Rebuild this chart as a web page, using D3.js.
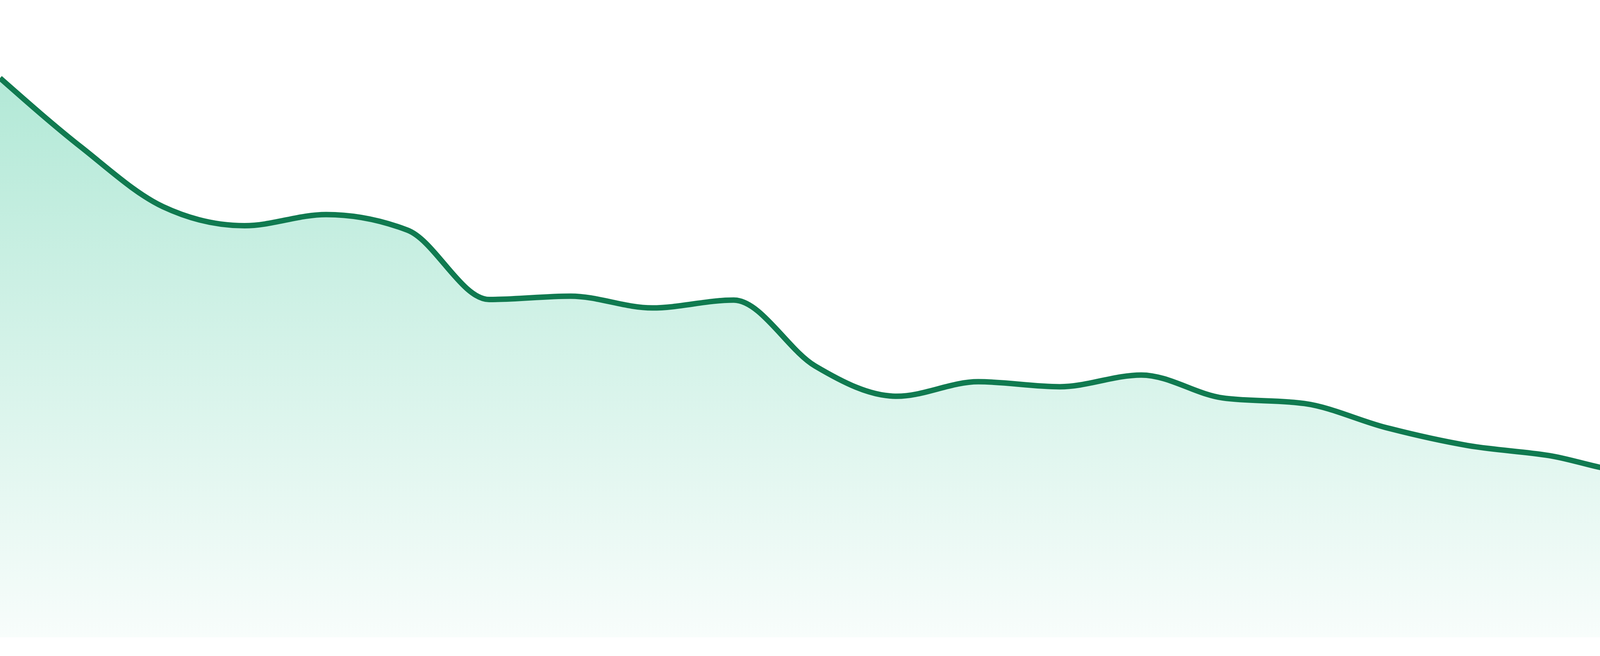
<!DOCTYPE html>
<html>
<head>
<meta charset="utf-8">
<script src="https://cdn.jsdelivr.net/npm/d3@7"></script>
<style>
    html, body { margin: 0; padding: 0; background: #fff; }
    svg { display: block; }
</style>
</head>
<body>
<div id="canvas"></div>
<script>
// one reading per day
const days = d3.range(1, 25);
const values = [100, 87.6, 77.0, 73.6, 75.6, 72.8, 60.4, 61.0, 58.9, 60.3, 48.5, 43.1,
    45.7, 44.8, 46.9, 42.8, 41.8, 37.5, 34.3, 32.5, 29.7, 30.2, 27.7, 24.7];
const yDomain = [0, 100];

const width = 4800;
const height = 1680;
const plotBottom = 1632;
const plotTop = 200;

const svg = d3.select('#canvas').append('svg')
    .attr('width', width)
    .attr('height', height);

const x = d3.scalePoint()
    .domain(days)
    .range([0, width]);

const y = d3.scaleLinear()
    .domain(yDomain)
    .range([plotBottom, plotTop]);

const points = days.map(function (d, i) {
    return { day: d, value: values[i] };
});

const grad = svg.append('defs').append('linearGradient')
    .attr('id', 'fillGrad')
    .attr('gradientUnits', 'userSpaceOnUse')
    .attr('x1', 0).attr('x2', 0)
    .attr('y1', y(yDomain[1])).attr('y2', y(0));
grad.append('stop').attr('offset', '0%')
    .attr('stop-color', '#10b981').attr('stop-opacity', 0.32);
grad.append('stop').attr('offset', '100%')
    .attr('stop-color', '#10b981').attr('stop-opacity', 0.03);

const area = d3.area()
    .curve(d3.curveMonotoneX)
    .x(function (d) { return x(d.day); })
    .y0(y(0))
    .y1(function (d) { return y(d.value); });

const line = d3.line()
    .curve(d3.curveMonotoneX)
    .x(function (d) { return x(d.day); })
    .y(function (d) { return y(d.value); });

svg.append('path')
    .datum(points)
    .attr('d', area)
    .style('fill', 'url(#fillGrad)');

svg.append('path')
    .datum(points)
    .attr('d', line)
    .style('fill', 'none')
    .style('stroke', '#107a50')
    .style('stroke-width', 14)
    .style('stroke-linejoin', 'round');
</script>
</body>
</html>
